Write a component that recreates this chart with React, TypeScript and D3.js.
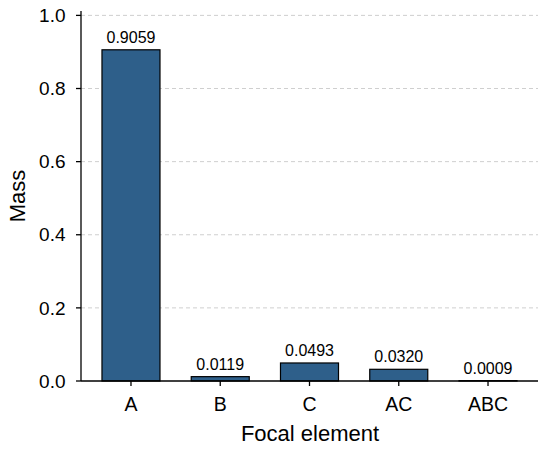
import React from "react";
import * as d3 from "d3";

const categories = ["A", "B", "C", "AC", "ABC"];
const masses = [0.9059, 0.0119, 0.0493, 0.032, 0.0009];
const yTicks = [0, 0.2, 0.4, 0.6, 0.8, 1.0];

const width = 550,
    height = 449;
const margin = { top: 11, right: 12, bottom: 68, left: 81 };
const font = "'Liberation Sans', Arial, sans-serif";

export default function App() {
    const x = d3.scalePoint()
        .domain(categories)
        .range([margin.left, width - margin.right])
        .padding(0.56);
    const barW = x.step() * 0.65;

    const y = d3.scaleLinear()
        .domain([0, 1.012])
        .range([height - margin.bottom, margin.top]);

    const y0 = y(0);

    return (
        <svg width={width} height={height}
            style={{ position: "absolute", left: 0, top: 0, background: "#fff" }}
            fontFamily={font}>
            {/* grid */}
            {yTicks.filter(t => t > 0).map(t => (
                <line key={"g" + t} x1={margin.left} x2={width - margin.right}
                    y1={y(t)} y2={y(t)} stroke="#cfcfcf" strokeWidth={1}
                    strokeDasharray="4,3" />
            ))}

            {/* bars */}
            {masses.map((m, i) => (
                <g key={categories[i]}>
                    <rect x={x(categories[i])! - barW / 2} y={y(m)}
                        width={barW} height={y0 - y(m)}
                        fill="#2e5f8a" stroke="#000" strokeWidth={1.2} />
                    <text x={x(categories[i])} y={y(m) - 7} textAnchor="middle"
                        fontSize={16} fill="#000">{m.toFixed(4)}</text>
                </g>
            ))}

            {/* y axis */}
            <line x1={margin.left} x2={margin.left} y1={margin.top} y2={y0}
                stroke="#000" strokeWidth={1.3} />
            {yTicks.map(t => (
                <g key={"y" + t}>
                    <line x1={margin.left - 5} x2={margin.left} y1={y(t)} y2={y(t)}
                        stroke="#000" strokeWidth={1.3} />
                    <text x={65.5} y={y(t)} dy="0.35em" textAnchor="end"
                        fontSize={19} fill="#000">{t.toFixed(1)}</text>
                </g>
            ))}
            <text transform={`translate(25,${(margin.top + y0) / 2}) rotate(-90)`}
                textAnchor="middle" fontSize={22} fill="#000">Mass</text>

            {/* x axis */}
            <line x1={margin.left} x2={width - margin.right} y1={y0} y2={y0}
                stroke="#000" strokeWidth={1.3} />
            {categories.map(c => (
                <g key={"x" + c}>
                    <line x1={x(c)} x2={x(c)} y1={y0} y2={y0 + 5}
                        stroke="#000" strokeWidth={1.3} />
                    <text x={x(c)} y={y0 + 30} textAnchor="middle"
                        fontSize={19.5} fill="#000">{c}</text>
                </g>
            ))}
            <text x={310} y={y0 + 60}
                textAnchor="middle" fontSize={22} fill="#000">Focal element</text>
        </svg>
    );
}
